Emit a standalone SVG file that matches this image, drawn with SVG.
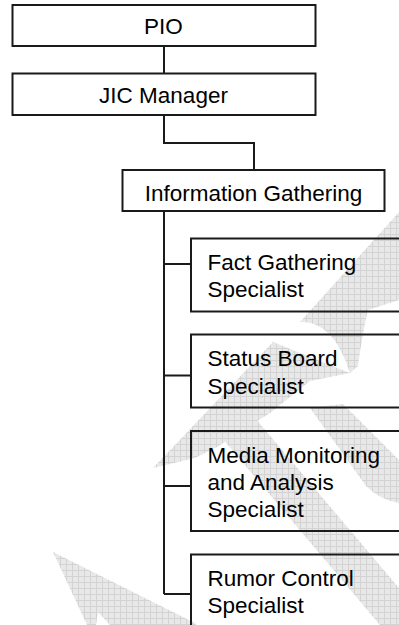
<svg xmlns="http://www.w3.org/2000/svg" width="399" height="625" viewBox="0 0 399 625">
<defs>
<pattern id="grid" width="6" height="6" patternUnits="userSpaceOnUse">
<rect width="6" height="6" fill="#e8e8e8"/>
<path d="M0 0.5H6M0.5 0V6" stroke="#d3d3d3" stroke-width="1"/>
</pattern>
<style>
.box{fill:none;stroke:#1a1a1a;stroke-width:2}
.wm{fill:url(#grid);stroke:none}
.con{fill:none;stroke:#1a1a1a;stroke-width:2}
text{font-family:"Liberation Sans",Arial,sans-serif;font-size:22.5px;fill:#000}
.c{text-anchor:middle}
</style>
</defs>
<rect width="399" height="625" fill="#fff"/>
<g id="watermark">
<path class="wm" d="M399,212 L300,322 Q333,320 350,373 L358,366 Q362,335 368,310 L399,300 Z"/>
<polygon class="wm" points="273,342 350,373 310,381 270,413 217,447 195,458 153,468"/>
<polygon class="wm" points="205,418 255,418 399,588 399,625 380,625"/>
<path class="wm" d="M310,408 L343,404 L399,460 L399,503 Q380,500 366,486 Z"/>
<polygon class="wm" points="53,552 195,623 196,625 110,625 98,612 96,625 87,625"/>
</g>
<g id="connectors">
<path class="con" d="M164,46V73"/>
<path class="con" d="M164,115V143H254V170"/>
<path class="con" d="M164,211V594"/>
<path class="con" d="M164,264H191M164,375.5H191M164,486H191M164,594H191"/>
</g>
<g id="pio">
<rect class="box" x="12.5" y="5" width="303" height="41"/>
<text class="c" x="163.5" y="34.3">PIO</text>
</g>
<g id="jic">
<rect class="box" x="12.5" y="73.5" width="303" height="41.5"/>
<text class="c" x="163.5" y="102.5">JIC Manager</text>
</g>
<g id="info">
<rect class="box" x="122.5" y="170" width="262" height="41"/>
<text class="c" x="253.5" y="200.5">Information Gathering</text>
</g>
<g id="fact">
<rect class="box" x="191" y="238.5" width="230" height="73"/>
<text x="207.5" y="270">Fact Gathering</text>
<text x="207.5" y="296.5">Specialist</text>
</g>
<g id="status">
<rect class="box" x="191" y="334.5" width="230" height="73"/>
<text x="207.5" y="366">Status Board</text>
<text x="207.5" y="393.5">Specialist</text>
</g>
<g id="media">
<rect class="box" x="191" y="431" width="230" height="100"/>
<text x="207.5" y="463">Media Monitoring</text>
<text x="207.5" y="490">and Analysis</text>
<text x="207.5" y="517">Specialist</text>
</g>
<g id="rumor">
<rect class="box" x="191" y="554.5" width="230" height="100"/>
<text x="207.5" y="586">Rumor Control</text>
<text x="207.5" y="613">Specialist</text>
</g>
</svg>
